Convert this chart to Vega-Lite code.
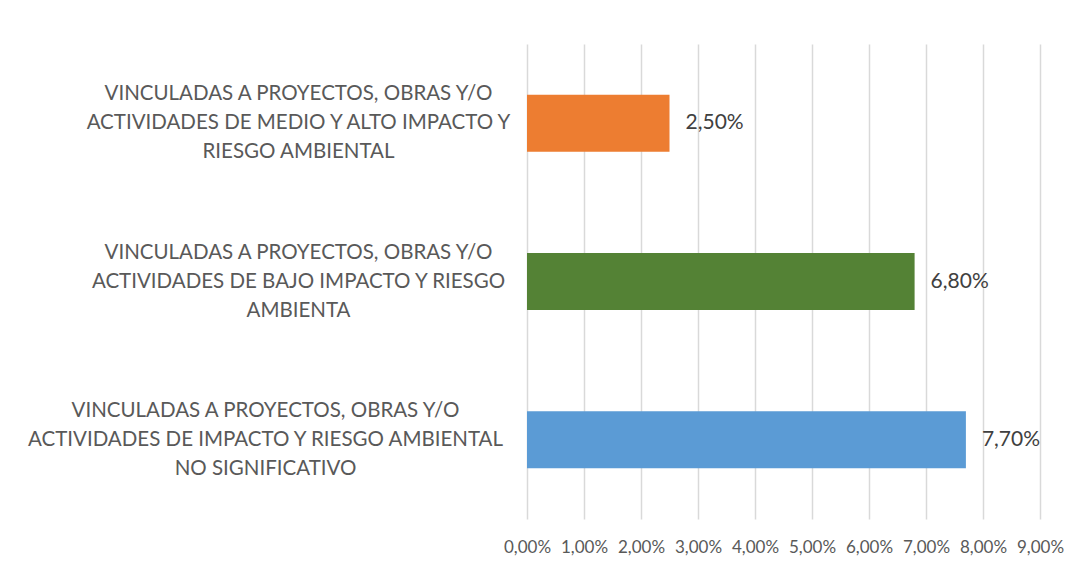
{
  "$schema": "https://vega.github.io/schema/vega-lite/v6.json",
  "autosize": "none",
  "width": 513,
  "height": 475,
  "padding": {"left": 527, "top": 44, "right": 43, "bottom": 47},
  "background": "white",
  "config": {
    "locale": {"number": {"decimal": ",", "thousands": ".", "grouping": [3], "currency": ["", " €"]}},
    "view": {"stroke": null},
    "font": "Lato"
  },
  "data": {
    "values": [
      {"categoria": "VINCULADAS A PROYECTOS, OBRAS Y/O|ACTIVIDADES DE MEDIO Y ALTO IMPACTO Y|RIESGO AMBIENTAL", "valor": 0.025, "color": "#ED7D31"},
      {"categoria": "VINCULADAS A PROYECTOS, OBRAS Y/O|ACTIVIDADES DE BAJO IMPACTO Y RIESGO|AMBIENTA", "valor": 0.068, "color": "#548235"},
      {"categoria": "VINCULADAS A PROYECTOS, OBRAS Y/O|ACTIVIDADES DE IMPACTO Y RIESGO AMBIENTAL|NO SIGNIFICATIVO", "valor": 0.077, "color": "#5B9BD5"}
    ]
  },
  "encoding": {
    "y": {
      "field": "categoria",
      "type": "nominal",
      "sort": null,
      "title": null,
      "scale": {"paddingInner": 0.64, "paddingOuter": 0.32},
      "axis": {
        "domain": false,
        "ticks": false,
        "grid": false,
        "labelExpr": "split(datum.label, '|')",
        "labelAlign": "center",
        "labelBaseline": "middle",
        "labelFontSize": 20.5,
        "labelLineHeight": 29,
        "labelOffset": -29,
        "labelColor": "#595959",
        "labelFont": "Lato",
        "labelLimit": 600,
        "labelPadding": {"condition": {"test": "indexof(datum.value, 'NO SIGNIFICATIVO') >= 0", "value": 262}, "value": 229}
      }
    },
    "x": {
      "field": "valor",
      "type": "quantitative",
      "title": null,
      "scale": {"domain": [0, 0.09], "nice": false},
      "axis": {
        "values": [0, 0.01, 0.02, 0.03, 0.04, 0.05, 0.06, 0.07, 0.08, 0.09],
        "format": ".2%",
        "domain": false,
        "ticks": false,
        "grid": true,
        "gridColor": "#D9D9D9",
        "gridWidth": 1.5,
        "labelFontSize": 17,
        "labelColor": "#595959",
        "labelFont": "Lato",
        "labelPadding": 20,
        "labelFlush": false,
        "labelOverlap": false
      }
    }
  },
  "layer": [
    {
      "mark": {"type": "bar"},
      "encoding": {
        "color": {"field": "color", "type": "nominal", "scale": null, "legend": null}
      }
    },
    {
      "mark": {"type": "text", "align": "left", "baseline": "middle", "dx": 16, "fontSize": 21, "color": "#404040", "font": "Lato"},
      "encoding": {
        "text": {"field": "valor", "type": "quantitative", "format": ".2%"}
      }
    }
  ]
}
